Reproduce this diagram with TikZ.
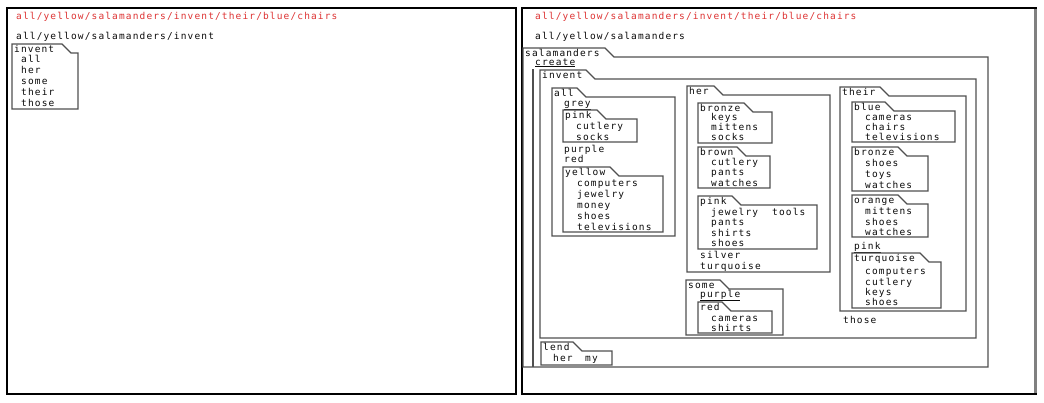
\documentclass[tikz,border=0pt]{standalone}
\usepackage{fontspec}
\newfontfamily\lblfont[LetterSpace=12]{DejaVu Sans Mono}
\definecolor{pathred}{RGB}{222,52,52}
\definecolor{flinec}{RGB}{80,80,80}
\definecolor{txtc}{RGB}{10,10,10}
\tikzset{
  fline/.style={draw=flinec, line width=1.2bp, line join=miter},
  lbl/.style={inner sep=0pt, anchor=base west, font={\lblfont\fontsize{9.5bp}{10bp}\selectfont}, text=txtc},
  redlbl/.style={lbl, text=pathred},
  panel/.style={draw=black, line width=2.4bp},
}
% folder: name, left, tab top, tab right, right, bottom, label
\newcommand\fold[7]{%
  \draw[fline] (#2,#3) -- (#4,#3) -- ({#4+9},{#3+9}) -- (#5,{#3+9}) -- (#5,#6) -- (#2,#6) -- cycle;
  \node[lbl] (#1) at ({#2+2},{#3+8.5}) {#7};
}
\begin{document}
\begin{tikzpicture}[x=1bp,y=-1bp]
\useasboundingbox (0,0) rectangle (1044,402);
\fill[white] (0,0) rectangle (1044,402);
% ---------- left panel ----------
\draw[panel] (7,8) rectangle (516,394);
\node[redlbl] (lpath1) at (16,19) {all/yellow/salamanders/invent/their/blue/chairs};
\node[lbl] (lpath2) at (16,39) {all/yellow/salamanders/invent};
\fold{linvent}{12}{44}{62}{78}{109}{invent}
\node[lbl] (l-all) at (21,62) {all};
\node[lbl] (l-her) at (21,73) {her};
\node[lbl] (l-some) at (21,84) {some};
\node[lbl] (l-their) at (21,95) {their};
\node[lbl] (l-those) at (21,106) {those};
% ---------- right panel ----------
\draw[panel] (522,8) rectangle (1036,394);
\draw[line width=3bp, gray] (1035,9) -- (1035,393);
\node[redlbl] (rpath1) at (535,19) {all/yellow/salamanders/invent/their/blue/chairs};
\node[lbl] (rpath2) at (535,39) {all/yellow/salamanders};
\fold{sal}{523}{48}{605}{988}{367}{salamanders}
\node[lbl] (create) at (535,65) {\underline{create}};
\draw[fline] (533,69) -- (533,367);
\fold{inv}{540}{70}{586}{976}{338}{invent}
% all
\fold{all}{552}{88}{577}{675}{236}{all}
\node[lbl] (a-grey) at (564,106) {\underline{grey}};
\fold{apink}{563}{110}{597}{637}{142}{pink}
\node[lbl] (ap-cutlery) at (576,129) {cutlery};
\node[lbl] (ap-socks) at (576,140) {socks};
\node[lbl] (a-purple) at (564,152) {purple};
\node[lbl] (a-red) at (564,162) {red};
\fold{ayellow}{563}{167}{610}{663}{232}{yellow}
\node[lbl] (ay-computers) at (577,186) {computers};
\node[lbl] (ay-jewelry) at (577,197) {jewelry};
\node[lbl] (ay-money) at (577,208) {money};
\node[lbl] (ay-shoes) at (577,219) {shoes};
\node[lbl] (ay-televisions) at (577,230) {televisions};
% her
\fold{her}{687}{86}{714}{830}{272}{her}
\fold{hbronze}{698}{103}{744}{772}{143}{bronze}
\node[lbl] (hb-keys) at (711,120) {keys};
\node[lbl] (hb-mittens) at (711,130) {mittens};
\node[lbl] (hb-socks) at (711,140) {socks};
\fold{hbrown}{698}{147}{737}{770}{188}{brown}
\node[lbl] (hr-cutlery) at (711,165) {cutlery};
\node[lbl] (hr-pants) at (711,175.5) {pants};
\node[lbl] (hr-watches) at (711,186) {watches};
\fold{hpink}{698}{196}{732}{817}{249}{pink}
\node[lbl] (hp-jewelry) at (711,215) {jewelry};
\node[lbl] (hp-tools) at (772,215) {tools};
\node[lbl] (hp-pants) at (711,225.5) {pants};
\node[lbl] (hp-shirts) at (711,236) {shirts};
\node[lbl] (hp-shoes) at (711,246.5) {shoes};
\node[lbl] (h-silver) at (700,258) {silver};
\node[lbl] (h-turquoise) at (700,269) {turquoise};
% some
\fold{some}{686}{280}{720}{783}{335}{some}
\node[lbl] (s-purple) at (700,297) {\underline{purple}};
\fold{sred}{698}{302}{722}{772}{333}{red}
\node[lbl] (sr-cameras) at (711,321) {cameras};
\node[lbl] (sr-shirts) at (711,331) {shirts};
% their
\fold{their}{840}{87}{880}{966}{311}{their}
\fold{tblue}{852}{102}{885}{955}{142}{blue}
\node[lbl] (tb-cameras) at (865,120) {cameras};
\node[lbl] (tb-chairs) at (865,130) {chairs};
\node[lbl] (tb-televisions) at (865,140) {televisions};
\fold{tbronze}{852}{147}{898}{928}{191}{bronze}
\node[lbl] (tz-shoes) at (865,166) {shoes};
\node[lbl] (tz-toys) at (865,177) {toys};
\node[lbl] (tz-watches) at (865,188) {watches};
\fold{torange}{852}{195}{898}{928}{237}{orange}
\node[lbl] (to-mittens) at (865,214) {mittens};
\node[lbl] (to-shoes) at (865,225) {shoes};
\node[lbl] (to-watches) at (865,235) {watches};
\node[lbl] (t-pink) at (854,249) {\underline{pink}};
\fold{tturq}{852}{253}{920}{941}{308}{turquoise}
\node[lbl] (tt-computers) at (865,274) {computers};
\node[lbl] (tt-cutlery) at (865,285) {cutlery};
\node[lbl] (tt-keys) at (865,295) {keys};
\node[lbl] (tt-shoes) at (865,305.5) {shoes};
\node[lbl] (i-those) at (843,323) {those};
% lend
\fold{lend}{541}{342}{573}{612}{365}{lend}
\node[lbl] (l-her2) at (553,361) {her};
\node[lbl] (l-my) at (585,361) {my};
\end{tikzpicture}
\end{document}
